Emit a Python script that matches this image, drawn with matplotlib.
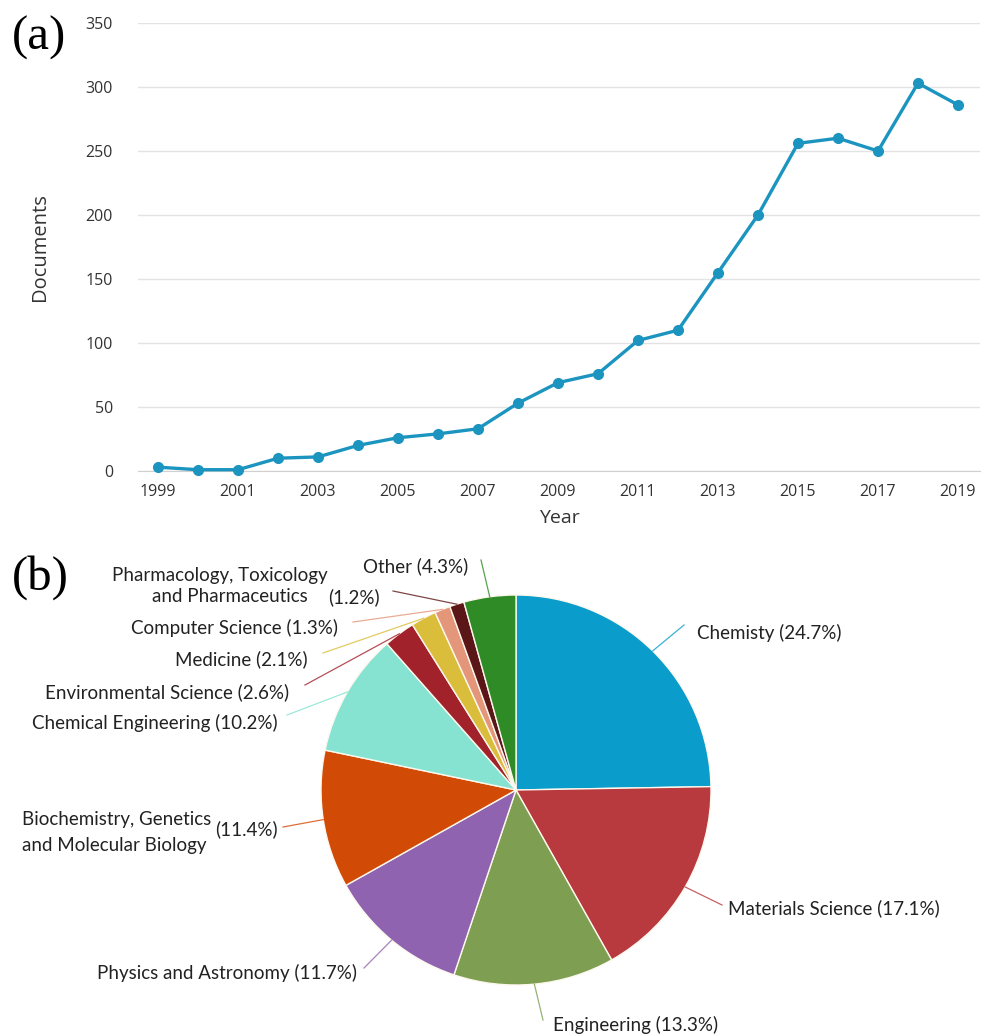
import numpy as np
import matplotlib
matplotlib.use("Agg")
import matplotlib.pyplot as plt

# (a) documents per year
years = list(range(1999, 2020))
documents = [3, 1, 1, 10, 11, 20, 26, 29, 33, 53, 69, 76, 102, 110, 155, 200, 256, 260, 250, 303, 286]
year_ticks = list(range(1999, 2020, 2))
doc_ticks = list(range(0, 351, 50))

# (b) documents by subject area, clockwise from 12 o'clock
subjects = ["Chemisty", "Materials Science", "Engineering", "Physics and Astronomy",
            "Biochemistry, Genetics\nand Molecular Biology", "Chemical Engineering",
            "Environmental Science", "Medicine", "Computer Science",
            "Pharmacology, Toxicology\nand Pharmaceutics", "Other"]
shares = [24.7, 17.1, 13.3, 11.7, 11.4, 10.2, 2.6, 2.1, 1.3, 1.2, 4.3]
slice_colors = ["#0a9ccb", "#b8393e", "#7e9f52", "#9063b0", "#d24b06", "#86e3d1",
                "#a2222c", "#dabd3a", "#e3967a", "#5b1718", "#2f8b25"]

W, H = 988, 1036
plt.rcParams["font.family"] = ["Open Sans", "DejaVu Sans"]
fig = plt.figure(figsize=(W / 100, H / 100), dpi=100)

# ---------- (a) line chart ----------
ax = fig.add_axes([138 / W, 1 - 471 / H, 842 / W, 448 / H])
ax.plot(years, documents, color="#1b95c0", lw=2.4, marker="o", ms=7, clip_on=False, zorder=3)
ax.set_xlim(1998.5, 2019.55)
ax.set_ylim(0, 350)
ax.set_yticks(doc_ticks)
ax.set_xticks(year_ticks)
ax.grid(axis="y", color="#e3e3e3", lw=1)
for s in ["top", "right", "left"]:
    ax.spines[s].set_visible(False)
ax.spines["bottom"].set_color("#d0d0d0")
ax.tick_params(axis="both", length=0, labelsize=11.5, labelcolor="#333333")
ax.tick_params(axis="y", pad=18)
ax.tick_params(axis="x", pad=9)
ax.set_xlabel("Year", fontsize=14, color="#333333", labelpad=7)
ax.set_ylabel("Documents", fontsize=14.5, color="#333333", labelpad=26)

fig.text(12 / W, 1 - 38 / H, "(a)", family="Liberation Serif", fontsize=35, va="center")
fig.text(12 / W, 1 - 578 / H, "(b)", family="Liberation Serif", fontsize=35, va="center")

# ---------- (b) pie chart ----------
cx, cy, R = 516, 790, 195
pax = fig.add_axes([(cx - R) / W, 1 - (cy + R) / H, 2 * R / W, 2 * R / H])
wedges, _ = pax.pie(shares, colors=slice_colors, startangle=90, counterclock=False,
                    radius=1, wedgeprops=dict(edgecolor="#fdf8ee", linewidth=1))
pax.set_xlim(-1, 1)
pax.set_ylim(-1, 1)
pax.axis("off")


def to_data(px, py):
    return (px - cx) / R, (cy - py) / R


def label(px, py, s, ha):
    x, y = to_data(px, py)
    pax.text(x, y, s, ha=ha, va="center", fontsize=13.5, family=["Lato", "DejaVu Sans"],
             color="#222222", clip_on=False)


# connector end points and label anchors, in picture pixels
label_layout = [
    ((684, 625), (697, 633), "left"),
    ((722, 905), (728, 908), "left"),
    ((543, 1020), (553, 1025), "left"),
    ((364, 968), (357, 973), "right"),
    ((283, 827), (22, 820), "left"),
    ((287, 715), (278, 723), "right"),
    ((305, 685), (289, 692), "right"),
    ((323, 653), (308, 659), "right"),
    ((353, 622), (338, 628), "right"),
    ((393, 591), (328, 575), "right"),
    ((481, 560), (468, 566), "right"),
]

for w, name, pct, col, (end, anchor, ha) in zip(wedges, subjects, shares, slice_colors, label_layout):
    mid = np.deg2rad((w.theta1 + w.theta2) / 2)
    x0, y0 = np.cos(mid), np.sin(mid)
    x1, y1 = to_data(*end)
    pax.plot([x0, x1], [y0, y1], color=col, lw=0.9, clip_on=False, alpha=0.8)
    if "\n" in name:
        continue
    label(anchor[0], anchor[1], f"{name} ({pct}%)", ha)

# two-line labels, laid out as in the original
bio1, bio2 = subjects[4].split("\n")
label(22, 820, bio1, "left")
label(22, 845, bio2, "left")
label(215, 829, f"({shares[4]}%)", "left")
ph1, ph2 = subjects[9].split("\n")
label(328, 575, ph1, "right")
label(308, 597, ph2, "right")
label(328, 597, f"({shares[9]}%)", "left")

fig.savefig("out.png", dpi=100, facecolor="white")
